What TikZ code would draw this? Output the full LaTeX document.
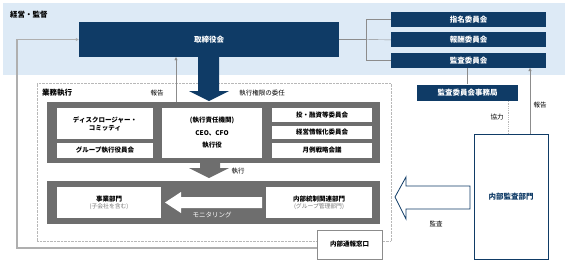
\documentclass[tikz,border=0pt]{standalone}
\usepackage{fontspec}
\setmainfont{Noto Sans CJK JP}
\usepackage{tikz}
\usetikzlibrary{arrows.meta, positioning, calc}
\definecolor{navyBoard}{HTML}{0F3B66}
\definecolor{bandFill} {HTML}{DDEAF6}
\definecolor{panelGray}{HTML}{6E6E6E}
\definecolor{lineGray} {HTML}{8C8C8C}
\definecolor{dotGray}  {HTML}{B8B8B8}
\definecolor{noteGray} {HTML}{777777}
\newcommand{\subnote}[1]{{\fontsize{5.8}{7}\selectfont\mdseries\color{noteGray}#1}}

\begin{document}
\begin{tikzpicture}[
    x=1pt, y=-1pt,
    navybox/.style={fill=navyBoard, text=white, inner sep=0pt,
                    font=\fontsize{7.5}{9}\selectfont\bfseries},
    committee/.style={navybox, minimum width=155, minimum height=15},
    whitebox/.style={fill=white, inner sep=0pt, align=center,
                     font=\fontsize{6.5}{8}\selectfont\bfseries},
    panel/.style={fill=panelGray, inner sep=0pt},
    note/.style={inner sep=1pt, font=\fontsize{6.5}{8}\selectfont},
    head/.style={inner sep=0pt, anchor=west, font=\fontsize{7.5}{9}\selectfont\bfseries},
    arr/.style={draw=lineGray, -{Triangle[length=3pt,width=3pt]}},
    link/.style={draw=lineGray},
  ]
    \useasboundingbox (0,0) rectangle (568,263);

    \node[fill=bandFill, inner sep=0pt, minimum width=562, minimum height=72] (band) at (284,39) {};
    \node[head] (govlbl) at (10,15) {経営・監督};
    \node[draw=dotGray, densely dotted, inner sep=0pt, minimum width=354, minimum height=158] (execframe) at (214,162) {};
    \node[head] (execlbl) at (42,93) {業務執行};

    \node[navybox, minimum width=260, minimum height=35] (board) at (209,39.5) {取締役会};
    \node[committee] (nom) at (468.5,19.5) {指名委員会};
    \node[committee, below=5pt of nom] (rem) {報酬委員会};
    \node[committee, below=5pt of rem] (aud) {監査委員会};
    \node[navybox, minimum width=101, minimum height=16] (office) at (467.5,92.5) {監査委員会事務局};
    \node[draw=navyBoard, thick, fill=white, text=navyBoard, minimum width=74, minimum height=125,
          font=\fontsize{7.5}{9}\selectfont\bfseries] (iaudit) at (511,196.5) {内部監査部門};

    \node[panel, minimum width=333, minimum height=61] (execpanel) at (213.5,132.5) {};
    \node[panel, minimum width=333, minimum height=43] (opspanel) at (213.5,202.5) {};

    \node[whitebox, minimum width=96, minimum height=31] (disc) at (105,123.5) {ディスクロージャー・\\コミッティ};
    \node[whitebox, minimum width=96, minimum height=15] (grpexec) at (105,150.5) {グループ執行役員会};
    \node[whitebox, minimum width=100, minimum height=50, font=\fontsize{6.5}{12.5}\selectfont\bfseries] (ceo) at (212,133)
        {(執行責任機関)\\CEO、CFO\\執行役};
    \node[whitebox, minimum width=100, minimum height=14] (invest) at (322,115) {投・融資等委員会};
    \node[whitebox, minimum width=100, minimum height=13] (infocom) at (322,132.5) {経営情報化委員会};
    \node[whitebox, minimum width=100, minimum height=15] (monthly) at (322,150.5) {月例戦略会議};

    \node[whitebox, minimum width=104, minimum height=31] (biz) at (109,202.5) {事業部門\\[-1pt]\subnote{(子会社を含む)}};
    \node[whitebox, minimum width=106, minimum height=31] (ictrl) at (319,202.5) {内部統制関連部門\\[-1pt]\subnote{(グループ管理部門)}};

    \node[draw=lineGray, fill=white, minimum width=65, minimum height=29,
          font=\fontsize{6.5}{8}\selectfont\bfseries] (whistle) at (349.5,244.5) {内部通報窓口};

    \fill[navyBoard] (198,57) -- (219,57) -- (219,91) -- (229,91) -- (209,101) -- (189,91) -- (198,91) -- cycle;
    \fill[panelGray] (200,163) -- (220,163) -- (220,168) -- (229,168) -- (209,178) -- (189,168) -- (200,168) -- cycle;
    \fill[white] (262,197) -- (181,197) -- (181,192) -- (165,202.5) -- (181,213) -- (181,208) -- (262,208) -- cycle;
    \draw[navyBoard, thick, fill=white] (470,186) -- (406,186) -- (406,177) -- (395,197) -- (406,219) -- (406,209) -- (470,209) -- cycle;

    \node[note] (rep1) at (157,93) {報告};
    \node[note] (deleg) at (262,93) {執行権限の委任};
    \node[note] (execlb) at (238,171) {執行};
    \node[note, text=white] (monlbl) at (212,215) {モニタリング};
    \node[note] (audlbl) at (436,224) {監査};
    \node[note] (coop) at (497,117) {協力};
    \node[note] (rep2) at (540,105) {報告};

    \coordinate (fork) at (366,39.5);
    \coordinate (loopcorner) at (17,248);
    \coordinate (rep1foot) at (176,102);
    \coordinate (rep2foot) at (530,134);
    \coordinate (coopfoot) at (508,134);
    \draw[link] (board.east) -- (fork);
    \draw[link] (fork |- nom) -- (fork |- aud);
    \draw[link] (fork |- nom) -- (nom.west);
    \draw[link] (fork) -- (rem.west);
    \draw[link] (fork |- aud) -- (aud.west);
    \draw[link] (office.north) -- (office.north |- aud.south);
    \draw[arr] (rep1foot) -- (rep1foot |- board.south);
    \draw[arr] (rep2foot) -- (rep2foot |- aud.south);
    \draw[densely dotted, draw=dotGray, thick] (coopfoot) -- (coopfoot |- office.south);
    \draw[draw=lineGray!70, line width=1.2pt, -{Triangle[length=3pt,width=3pt]}]
        (whistle.west |- loopcorner) -- (loopcorner) |- (board.west);
  \end{tikzpicture}
\end{document}
